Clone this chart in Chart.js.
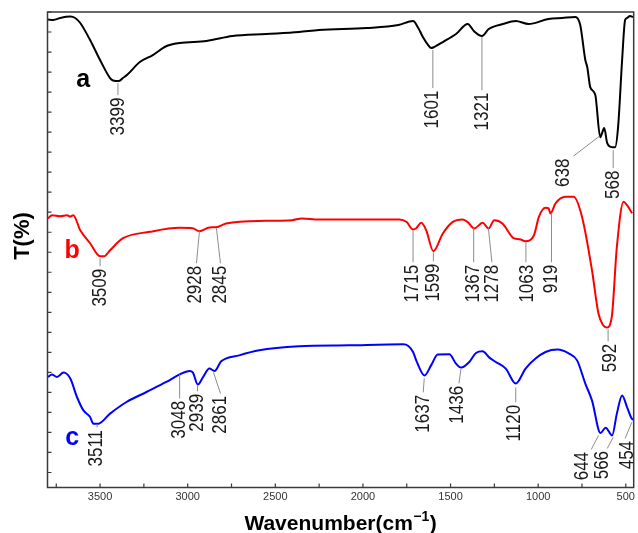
<!DOCTYPE html>
<html>
<head>
<meta charset="utf-8">
<script src="https://cdn.jsdelivr.net/npm/chart.js@4"></script>
<style>
html, body { margin: 0; padding: 0; background: #fff; }
#wrap { width: 638px; height: 533px; }
</style>
</head>
<body>
<div id="wrap"><canvas id="ftirChart" width="638" height="533"></canvas></div>
<script>
// FTIR spectra, wavenumber (cm-1) vs. transmittance (curves offset, arbitrary units)
const wnA = [3797,3767,3727,3670,3642,3613,3557,3500,3443,3426,3392,3370,3347,3273,3199,3120,3046,2893,2745,2552,2365,2252,1979,1798,1714,1684,1658,1628,1611,1594,1544,1469,1402,1367,1321,1282,1202,1128,1055,941,863,788,760,731,720,703,674,646,623,606,578,561,544,521,504,493,476,459];
const tA  = [23.62,23.60,23.70,23.77,23.70,23.45,22.60,21.60,20.70,20.58,20.55,20.70,20.85,21.50,21.85,22.30,22.45,22.55,22.80,22.90,23.00,23.10,23.20,23.35,23.55,23.20,22.75,22.35,22.20,22.25,22.50,22.90,23.40,23.05,22.80,23.15,23.40,23.55,23.40,23.65,23.70,23.75,23.35,21.60,21.25,20.25,19.85,17.75,18.20,17.45,17.25,17.25,18.25,21.60,23.60,23.70,23.80,23.75];

const wnB = [3797,3774,3727,3689,3670,3653,3613,3557,3500,3477,3443,3369,3216,3046,2972,2933,2876,2838,2781,2554,2405,2348,2252,1792,1752,1714,1696,1667,1639,1598,1544,1487,1431,1401,1365,1317,1283,1251,1204,1138,1106,1072,1024,996,958,941,930,901,845,798,750,693,656,629,608,580,551,513,493,464];
const tB  = [13.69,13.85,13.80,13.85,13.78,13.85,13.10,12.45,11.80,11.80,12.10,12.70,13.02,13.22,13.20,13.05,13.24,13.25,13.44,13.57,13.60,13.69,13.63,13.64,13.52,13.14,13.20,13.47,13.10,12.05,12.94,13.52,13.64,13.50,13.19,13.47,13.19,13.60,13.44,12.69,12.65,12.55,12.85,13.77,14.22,14.20,13.94,14.44,14.77,14.77,13.77,11.10,8.94,8.35,8.24,8.77,12.27,14.52,14.35,13.95];

const wnC = [3797,3775,3746,3708,3670,3632,3595,3557,3538,3510,3443,3349,3235,3122,3046,2989,2971,2942,2914,2876,2847,2809,2706,2592,2365,2081,1771,1741,1714,1696,1649,1611,1573,1507,1469,1440,1393,1355,1317,1280,1242,1185,1128,1072,1015,958,890,826,778,731,693,644,615,578,551,521,493,466,454];
const tC  = [5.77,5.89,5.77,5.99,5.69,4.77,4.10,3.77,3.44,3.44,3.94,4.52,5.02,5.52,5.90,6.07,6.00,5.39,5.74,6.19,6.07,6.55,6.85,7.10,7.30,7.35,7.40,7.32,7.02,6.60,5.85,6.35,6.89,6.90,6.44,6.24,6.52,6.97,7.05,6.75,6.52,6.19,5.44,6.19,6.69,7.02,7.14,6.95,6.60,5.44,4.60,2.97,3.24,2.85,3.94,4.85,4.27,3.69,3.63];

// peak labels: [text, line start wn, line start T, line end wn, line end T, text wn]
const peaksA = [
  ['3399', 3398, 20.45, 3398, 19.85, 3398],
  ['1601', 1601, 22.10, 1601, 20.20, 1601],
  ['1321', 1321, 22.75, 1321, 20.10, 1321],
  ['638', 650, 17.80, 799, 16.80, 856],
  ['568', 572, 17.10, 572, 16.20, 572]
];
const peaksB = [
  ['3509', 3500, 11.70, 3500, 11.30, 3500],
  ['2928', 2933, 13.05, 2950, 11.45, 2955],
  ['2845', 2836, 13.20, 2813, 11.45, 2813],
  ['1715', 1714, 13.10, 1714, 11.50, 1717],
  ['1599', 1598, 12.00, 1598, 11.55, 1600],
  ['1367', 1368, 13.20, 1368, 11.50, 1368],
  ['1278', 1284, 13.20, 1264, 11.50, 1261],
  ['1063', 1070, 12.50, 1070, 11.50, 1062],
  ['919', 924, 13.95, 924, 11.50, 924],
  ['592', 601, 8.15, 601, 7.55, 589]
];
const peaksC = [
  ['3511', 3517, 3.40, 3517, 3.25, 3519],
  ['3048', 3046, 5.90, 3046, 4.70, 3046],
  ['2939', 2944, 5.35, 2944, 5.05, 2944],
  ['2861', 2853, 6.00, 2813, 4.95, 2813],
  ['1637', 1650, 5.70, 1656, 5.00, 1656],
  ['1436', 1440, 6.20, 1452, 5.45, 1459],
  ['1120', 1128, 5.25, 1128, 4.50, 1138],
  ['644', 656, 2.85, 697, 2.15, 750],
  ['566', 572, 2.75, 606, 2.20, 633],
  ['454', 466, 3.50, 504, 2.70, 493]
];

// curve tags a / b / c
const tagText = ['a', 'b', 'c'];
const tagWn = [3596, 3659, 3659];
const tagT = [20.25, 11.70, 2.35];
const curveColors = ['#000000', '#ff0000', '#0000ff'];

const xMin = 455, xMax = 3800;
const yMin = 0.25, yMax = 24;

function toPoints(xs, ys) {
  return xs.map((v, i) => ({ x: v, y: ys[i] }));
}

const labelFont = "17px 'Liberation Sans', Arial, sans-serif";

const decorPlugin = {
  id: 'ftirDecor',
  afterDatasetsDraw(chart) {
    const { ctx, scales: { x, y } } = chart;
    const groups = [peaksA, peaksB, peaksC];
    ctx.save();
    // leader lines
    ctx.strokeStyle = '#8c8c8c';
    ctx.lineWidth = 1;
    groups.forEach(g => g.forEach(p => {
      ctx.beginPath();
      ctx.moveTo(x.getPixelForValue(p[1]), y.getPixelForValue(p[2]));
      ctx.lineTo(x.getPixelForValue(p[3]), y.getPixelForValue(p[4]));
      ctx.stroke();
    }));
    // rotated peak numbers
    ctx.fillStyle = '#1a1a1a';
    ctx.font = labelFont;
    ctx.textAlign = 'right';
    ctx.textBaseline = 'middle';
    groups.forEach(g => g.forEach(p => {
      ctx.save();
      ctx.translate(x.getPixelForValue(p[5]), y.getPixelForValue(p[4]) + 2.5);
      ctx.scale(1.2, 1);
      ctx.rotate(-Math.PI / 2);
      ctx.fillText(p[0], 0, 0);
      ctx.restore();
    }));
    // curve tags
    ctx.font = "bold 25px 'Liberation Sans', Arial, sans-serif";
    ctx.textAlign = 'center';
    ctx.textBaseline = 'alphabetic';
    tagText.forEach((t, i) => {
      ctx.fillStyle = curveColors[i];
      ctx.fillText(t, x.getPixelForValue(tagWn[i]), y.getPixelForValue(tagT[i]));
    });
    ctx.restore();
  },
  afterDraw(chart) {
    const { ctx, chartArea: a, scales: { x, y } } = chart;
    ctx.save();
    ctx.strokeStyle = '#3a3a3a';
    ctx.lineWidth = 1.5;
    ctx.strokeRect(a.left, a.top, a.right - a.left, a.bottom - a.top);
    // inward ticks
    ctx.lineWidth = 1.2;
    ctx.beginPath();
    x.ticks.forEach(t => {
      const px = x.getPixelForValue(t.value);
      ctx.moveTo(px, a.bottom);
      ctx.lineTo(px, a.bottom - 4);
    });
    y.ticks.forEach(t => {
      const py = y.getPixelForValue(t.value);
      ctx.moveTo(a.left, py);
      ctx.lineTo(a.left + 4, py);
    });
    ctx.stroke();

    // axis titles
    ctx.fillStyle = '#000';
    ctx.font = "bold 22px 'Liberation Sans', Arial, sans-serif";
    ctx.textAlign = 'center';
    ctx.textBaseline = 'middle';
    ctx.save();
    ctx.translate(23, 236);
    ctx.rotate(-Math.PI / 2);
    ctx.fillText('T(%)', 0, 0);
    ctx.restore();

    const big = "bold 21px 'Liberation Sans', Arial, sans-serif";
    const small = "bold 14px 'Liberation Sans', Arial, sans-serif";
    ctx.textAlign = 'left';
    ctx.textBaseline = 'alphabetic';
    ctx.font = big;
    const w1 = ctx.measureText('Wavenumber(cm').width;
    const w3 = ctx.measureText(')').width;
    ctx.font = small;
    const w2 = ctx.measureText('\u22121').width;
    const total = w1 + w2 + w3 + 1;
    let cx = (a.left + a.right) / 2 - total / 2;
    const base = 530;
    ctx.font = big;
    ctx.fillText('Wavenumber(cm', cx, base);
    cx += w1 + 0.5;
    ctx.font = small;
    ctx.fillText('\u22121', cx, base - 9);
    cx += w2 + 0.5;
    ctx.font = big;
    ctx.fillText(')', cx, base);
    ctx.restore();
  }
};

const config = {
  type: 'line',
  data: {
    datasets: [
      { label: 'a', data: toPoints(wnA, tA), borderColor: curveColors[0] },
      { label: 'b', data: toPoints(wnB, tB), borderColor: curveColors[1] },
      { label: 'c', data: toPoints(wnC, tC), borderColor: curveColors[2] }
    ]
  },
  options: {
    responsive: false,
    animation: false,
    devicePixelRatio: 1,
    layout: { padding: { top: 12, right: 2, left: 0, bottom: 0 } },
    elements: {
      line: { borderWidth: 2, cubicInterpolationMode: 'monotone', fill: false },
      point: { radius: 0 }
    },
    plugins: { legend: { display: false }, tooltip: { enabled: false } },
    scales: {
      x: {
        type: 'linear',
        reverse: true,
        min: xMin,
        max: xMax,
        afterFit: s => { s.height = 45.5; },
        border: { display: false },
        grid: { display: false, drawTicks: false },
        ticks: {
          stepSize: 250,
          includeBounds: false,
          autoSkip: false,
          maxRotation: 0,
          padding: 3,
          color: '#333',
          font: { family: "'Liberation Sans', Arial, sans-serif", size: 11 },
          callback: v => (v % 500 === 0 ? String(v) : '')
        }
      },
      y: {
        type: 'linear',
        min: yMin,
        max: yMax,
        afterFit: s => { s.width = 47.5; },
        border: { display: false },
        grid: { display: false, drawTicks: false },
        ticks: { stepSize: 1, includeBounds: false, display: false }
      }
    }
  },
  plugins: [decorPlugin]
};

new Chart(document.getElementById('ftirChart'), config);
</script>
</body>
</html>
